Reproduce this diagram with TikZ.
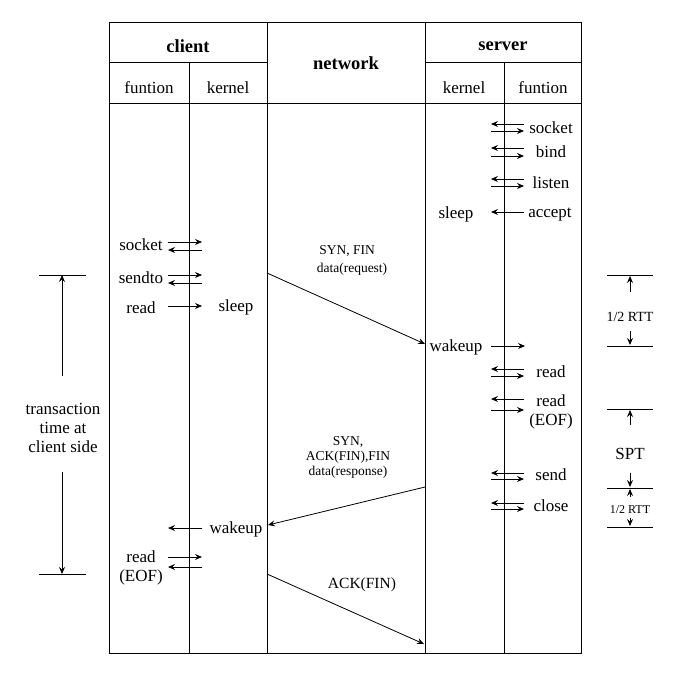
\documentclass[tikz,border=0pt]{standalone}
\usepackage{fontspec}
\setmainfont{Liberation Serif}
\usetikzlibrary{arrows.meta}
\newcommand{\arrline}[5]{\coordinate (#1a) at (#2,#4); \coordinate (#1b) at (#3,#5); \draw[arr] (#1a) -- (#1b);}
\begin{document}
\begin{tikzpicture}[x=1pt,y=-1pt,
  tbl/.style={line width=1pt},
  arr/.style={line width=0.8pt,-{Stealth[length=7pt,width=6pt,inset=2.5pt]}},
  tick/.style={line width=0.9pt},
  txt/.style={inner sep=0pt,yshift=-1.5pt,font=\fontsize{17}{19}\selectfont,align=center},
  hdr/.style={inner sep=0pt,yshift=-1pt,font=\fontsize{18.5}{21}\selectfont\bfseries},
  small/.style={inner sep=0pt,yshift=-1.5pt,font=\fontsize{13.5}{15}\selectfont,align=center}]
\useasboundingbox (0,0) rectangle (677,677);
% table
\draw[tbl] (109,23) rectangle (581,653);
\draw[tbl] (109,63) -- (267,63);
\draw[tbl] (425,63) -- (581,63);
\draw[tbl] (109,103) -- (581,103);
\draw[tbl] (267,23) -- (267,653);
\draw[tbl] (425,23) -- (425,653);
\draw[tbl] (189,63) -- (189,653);
\draw[tbl] (504,63) -- (504,653);
% headers
\node[hdr] (hclient) at (188,45) {client};
\node[hdr] (hnet) at (346,62) {network};
\node[hdr] (hserver) at (503,45) {server};
\node[txt] (hcf) at (149,86) {funtion};
\node[txt] (hck) at (228,86) {kernel};
\node[txt] (hsk) at (464,86) {kernel};
\node[txt] (hsf) at (543,86) {funtion};
% server setup
\node[txt] (ssocket) at (551,126) {socket};
\arrline{s1l}{524}{491}{124}{124}
\arrline{s1r}{491}{524}{131}{131}
\node[txt] (sbind) at (551,150) {bind};
\arrline{s2l}{524}{491}{148}{148}
\arrline{s2r}{491}{524}{156}{156}
\node[txt] (slisten) at (551,181) {listen};
\arrline{s3l}{524}{491}{179}{179}
\arrline{s3r}{491}{524}{186}{186}
\node[txt] (saccept) at (550,213) {accept};
\node[txt] (ssleep) at (456,213) {sleep};
\arrline{s4l}{524}{491}{212}{212}
% client
\node[txt] (csocket) at (141,243) {socket};
\arrline{c1r}{168}{202}{242}{242}
\arrline{c1l}{202}{168}{250}{250}
\node[txt] (csendto) at (141,276) {sendto};
\arrline{c2r}{168}{202}{275}{275}
\arrline{c2l}{202}{168}{283}{283}
\node[txt] (cread) at (141,306) {read};
\node[txt] (csleep) at (236,306) {sleep};
\arrline{c3r}{168}{202}{306}{306}
% network 1
\node[small] (n1a) at (347,250) {SYN, FIN};
\node[small] (n1b) at (352,268) {data(request)};
\coordinate (n1s) at (267,273);
\coordinate (n1e) at (425,344);
\draw[arr] (n1s) -- (n1e);
% server wakeup and read
\node[txt] (swake) at (456,346) {wakeup};
\arrline{s5r}{491}{525}{346}{346}
\node[txt] (sread) at (551,370) {read};
\arrline{s6l}{524}{491}{369}{369}
\arrline{s6r}{491}{524}{376}{376}
\node[txt] (sreadeof) at (551,410) {read\\(EOF)};
\arrline{s7l}{524}{491}{399}{399}
\arrline{s7r}{491}{524}{410}{410}
\node[txt] (ssend) at (551,473) {send};
\arrline{s8l}{524}{491}{473}{473}
\arrline{s8r}{491}{524}{479}{479}
\node[txt] (sclose) at (551,504) {close};
\arrline{s9l}{524}{491}{503}{503}
\arrline{s9r}{491}{524}{509}{509}
% network 2
\node[small] (n2a) at (348,441) {SYN,};
\node[small] (n2b) at (348,456) {ACK(FIN),FIN};
\node[small] (n2c) at (348,471) {data(response)};
\coordinate (n2s) at (425,487);
\coordinate (n2e) at (268,525);
\draw[arr] (n2s) -- (n2e);
% client wakeup
\node[txt] (cwake) at (236,528) {wakeup};
\arrline{c4l}{202}{168}{528}{528}
\node[txt] (creadeof) at (141,566) {read\\(EOF)};
\arrline{c5r}{168}{202}{557}{557}
\arrline{c5l}{202}{168}{567}{567}
% network 3
\node[txt,font=\fontsize{15.5}{17}\selectfont] (n3) at (362,583) {ACK(FIN)};
\coordinate (n3s) at (267,574);
\coordinate (n3e) at (424,644);
\draw[arr] (n3s) -- (n3e);
% left annotation
\coordinate (lt1) at (39,275); \coordinate (lt2) at (86,275);
\coordinate (lb1) at (39,574); \coordinate (lb2) at (86,574);
\draw[tick] (lt1) -- (lt2);
\draw[tick] (lb1) -- (lb2);
\node[txt] (ltext) at (63,426) {transaction\\time at\\client side};
\coordinate (la1) at (62,376); \coordinate (la2) at (62,275);
\coordinate (la3) at (62,472); \coordinate (la4) at (62,574);
\draw[arr] (la1) -- (la2);
\draw[arr] (la3) -- (la4);
% right annotation
\foreach \y/\n in {275/r1,346/r2,409/r3,488/r4,527/r5}{
  \coordinate (\n a) at (607,\y); \coordinate (\n b) at (653,\y);
  \draw[tick] (\n a) -- (\n b);}
\node[small,font=\fontsize{14}{15}\selectfont] (rtt1) at (630,315) {1/2 RTT};
\arrline{ra1}{630}{630}{292}{276}
\arrline{ra2}{630}{630}{331}{345}
\node[txt] (spt) at (630,452) {SPT};
\arrline{ra3}{630}{630}{425}{410}
\arrline{ra4}{630}{630}{473}{487}
\arrline{ra5}{630}{630}{497}{489}
\arrline{ra6}{630}{630}{518}{526}
\node[small,font=\fontsize{12}{14}\selectfont] (rtt2) at (630,508) {1/2 RTT};
\end{tikzpicture}
\end{document}
